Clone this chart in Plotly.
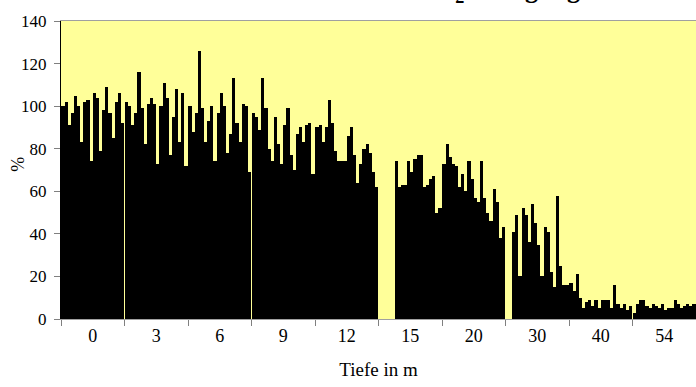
import plotly.graph_objects as go

depths = ["0", "3", "6", "9", "12", "15", "20", "30", "40", "54"]

v0 = [100, 102, 91, 97, 105, 100, 83, 102, 103, 74, 106, 104, 79, 98, 109, 97, 85, 102, 106, 92]
v3 = [102, 100, 91, 97, 116, 99, 82, 101, 104, 101, 73, 100, 111, 104, 77, 95, 108, 83, 106, 72]
v6 = [100, 88, 97, 126, 99, 83, 93, 100, 74, 97, 106, 100, 78, 87, 113, 92, 83, 101, 100, 69]
v9 = [97, 95, 89, 113, 99, 80, 74, 95, 82, 73, 91, 99, 77, 70, 87, 90, 83, 91, 92, 68]
v12 = [90, 91, 83, 90, 103, 92, 79, 74, 74, 74, 86, 90, 77, 64, 73, 80, 82, 78, 69, 62]
v15 = [None, None, None, None, None, 74, 62, 63, 63, 74, 69, 75, 77, 77, 62, 63, 66, 67, 50, 52]
v20 = [73, 82, 76, 73, 72, 62, 68, 60, 74, 66, 57, 55, 74, 57, 50, 46, 61, 55, 38, 43]
v30 = [None, None, 41, 49, 20, 52, 49, 36, 54, 45, 35, 20, 43, 41, 22, 15, 58, 25, 16, 16]
v40 = [17, 13, 21, 10, 5, 8, 9, 6, 9, 5, 9, 9, 9, 5, 16, 7, 5, 7, 4, 6]
v54 = [3, 7, 9, 9, 6, 5, 7, 6, 5, 7, 4, 5, 5, 9, 7, 5, 6, 7, 6, 7]

groups = [v0, v3, v6, v9, v12, v15, v20, v30, v40, v54]
yticks = [0, 20, 40, 60, 80, 100, 120, 140]

STRIDE = 20.3  # bars per group plus a thin gap
n = len(groups[0])

xs, ys = [], []
for g, vals in enumerate(groups):
    for i, v in enumerate(vals):
        xs.append(g * STRIDE + i)
        ys.append(v)

centers = [g * STRIDE + (n - 1) / 2 for g in range(len(depths))]
bounds = [g * STRIDE - 0.65 for g in range(len(depths) + 1)]

serif = "Liberation Serif, Times New Roman, serif"

fig = go.Figure(go.Bar(x=xs, y=ys, width=1.0, marker=dict(color="black", line=dict(width=0)),
                       showlegend=False))

fig.update_layout(
    width=696, height=387,
    margin=dict(l=61, r=0, t=21, b=68, autoexpand=False),
    paper_bgcolor="white",
    plot_bgcolor="#FFFF99",
    font=dict(family=serif, size=16, color="black"),
    bargap=0,
)

fig.update_xaxes(
    range=[bounds[0], bounds[-1]], automargin=False,
    tickmode="array", tickvals=centers, ticktext=depths,
    ticks="", showgrid=False, zeroline=False,
    showline=True, linecolor="#a0a0a0", linewidth=1, mirror=True,
    minor=dict(tickmode="array", tickvals=bounds, ticks="outside", ticklen=6,
               tickcolor="#808080", showgrid=False),
    tickfont=dict(size=18),
    title=dict(text="Tiefe in m", font=dict(size=19), standoff=18),
)
fig.update_yaxes(
    range=[0, 140], automargin=False, tickmode="array", tickvals=yticks,
    ticks="outside", ticklen=6, tickcolor="#808080",
    showgrid=False, zeroline=False,
    showline=True, linecolor="black", linewidth=1,
    tickfont=dict(size=17), ticklabelstandoff=4,
)

# y-axis title, placed like the reference
fig.add_annotation(
    text="%", textangle=-90,
    xref="paper", yref="paper", x=-0.068, y=0.52, xanchor="center", yanchor="middle",
    showarrow=False, font=dict(family=serif, size=18, color="black"),
)

fig.add_annotation(
    text="<b>O<sub>2</sub>-Sättigung</b>",
    xref="paper", yref="paper", x=0.821, y=1.039, xanchor="right", yanchor="bottom",
    showarrow=False, font=dict(family=serif, size=26, color="black"),
)

fig.write_html(
    "out.html",
    config={"displayModeBar": False},
    post_script="document.body.style.margin='0';document.documentElement.style.overflow='hidden';",
)
